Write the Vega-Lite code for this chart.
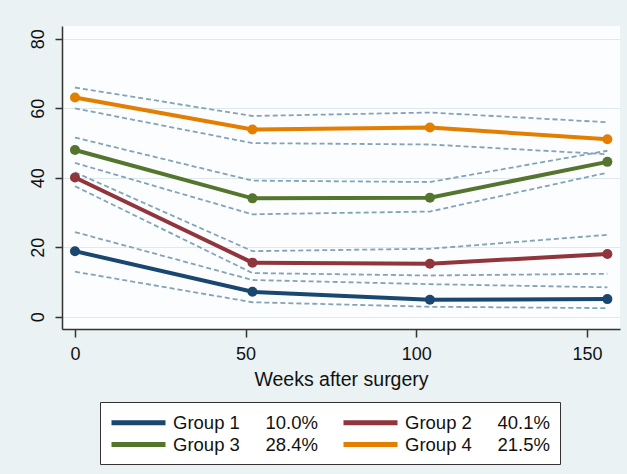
{
  "$schema": "https://vega.github.io/schema/vega-lite/v6.json",
  "width": 558,
  "height": 303,
  "autosize": "none",
  "padding": {"left": 62, "top": 26, "right": 7, "bottom": 145},
  "background": "#eaf2f3",
  "config": {
    "view": {"fill": "#fcfdfe", "stroke": null},
    "font": "Liberation Sans",
    "axis": {
      "labelFont": "Liberation Sans",
      "titleFont": "Liberation Sans",
      "labelColor": "#111",
      "titleColor": "#111",
      "domainColor": "#333",
      "domainWidth": 1.5,
      "tickColor": "#333",
      "tickWidth": 1.5,
      "gridColor": "#dfeaef",
      "gridWidth": 1
    }
  },
  "data": {
    "values": [
      {"week": 0, "group": "Group 1", "est": 18.9, "lo": 13.0, "hi": 24.4},
      {"week": 52, "group": "Group 1", "est": 7.2, "lo": 4.2, "hi": 10.6},
      {"week": 104, "group": "Group 1", "est": 4.9, "lo": 2.9, "hi": 9.4},
      {"week": 156, "group": "Group 1", "est": 5.1, "lo": 2.5, "hi": 8.5},
      {"week": 0, "group": "Group 2", "est": 40.1, "lo": 37.6, "hi": 41.6},
      {"week": 52, "group": "Group 2", "est": 15.6, "lo": 12.6, "hi": 18.9},
      {"week": 104, "group": "Group 2", "est": 15.3, "lo": 11.9, "hi": 19.6},
      {"week": 156, "group": "Group 2", "est": 18.1, "lo": 12.4, "hi": 23.6},
      {"week": 0, "group": "Group 3", "est": 48.0, "lo": 44.3, "hi": 51.6},
      {"week": 52, "group": "Group 3", "est": 34.1, "lo": 29.5, "hi": 39.2},
      {"week": 104, "group": "Group 3", "est": 34.3, "lo": 30.3, "hi": 38.8},
      {"week": 156, "group": "Group 3", "est": 44.6, "lo": 41.5, "hi": 47.8},
      {"week": 0, "group": "Group 4", "est": 63.1, "lo": 60.0, "hi": 66.0},
      {"week": 52, "group": "Group 4", "est": 53.9, "lo": 50.0, "hi": 57.8},
      {"week": 104, "group": "Group 4", "est": 54.5, "lo": 49.6, "hi": 58.8},
      {"week": 156, "group": "Group 4", "est": 51.1, "lo": 46.8, "hi": 56.0}
    ]
  },
  "encoding": {
    "x": {
      "field": "week",
      "type": "quantitative",
      "scale": {"domain": [-3.8, 159.7], "nice": false, "zero": false},
      "axis": {
        "values": [0, 50, 100, 150],
        "title": "Weeks after surgery",
        "labelFontSize": 18,
        "titleFontSize": 19.5,
        "titleFontWeight": "normal",
        "tickSize": 8,
        "labelPadding": 8,
        "titlePadding": 7,
        "grid": false
      }
    }
  },
  "layer": [
    {
      "mark": {"type": "line", "color": "#84a3b8", "strokeDash": [5, 3], "strokeWidth": 1.8},
      "encoding": {
        "y": {
          "field": "hi",
          "type": "quantitative",
          "scale": {"domain": [-3.5, 83.7], "nice": false, "zero": false},
          "axis": {
            "values": [0, 20, 40, 60, 80],
            "title": null,
            "labelFontSize": 18,
            "labelAngle": -90,
            "labelAlign": "center",
            "labelBaseline": "bottom",
            "labelPadding": 8,
            "tickSize": 7,
            "grid": true
          }
        },
        "detail": {"field": "group"}
      }
    },
    {
      "mark": {"type": "line", "color": "#84a3b8", "strokeDash": [5, 3], "strokeWidth": 1.8},
      "encoding": {
        "y": {"field": "lo", "type": "quantitative"},
        "detail": {"field": "group"}
      }
    },
    {
      "mark": {"type": "line", "strokeWidth": 4, "point": {"filled": true, "size": 100, "opacity": 1}},
      "encoding": {
        "y": {"field": "est", "type": "quantitative"},
        "color": {
          "field": "group",
          "type": "nominal",
          "scale": {
            "domain": ["Group 1", "Group 2", "Group 3", "Group 4"],
            "range": ["#1a476f", "#90353b", "#55752f", "#e37e00"]
          },
          "legend": {
            "title": null,
            "orient": "none",
            "legendX": 38,
            "legendY": 376,
            "columns": 2,
            "direction": "horizontal",
            "symbolType": "M-3,0H3",
            "symbolSize": 324,
            "symbolStrokeWidth": 5,
            "symbolOffset": 18,
            "labelFont": "Liberation Sans",
            "labelFontSize": 18.5,
            "labelColor": "#111",
            "labelOffset": 23,
            "labelLimit": 400,
            "columnPadding": 14,
            "rowPadding": 0,
            "padding": 9,
            "fillColor": "#ffffff",
            "strokeColor": "#333333",
            "labelExpr": "datum.label + '\u00a0\u00a0\u00a0\u00a0\u00a0' + {'Group 1': '10.0%', 'Group 2': '40.1%', 'Group 3': '28.4%', 'Group 4': '21.5%'}[datum.label]"
          }
        }
      }
    }
  ]
}
